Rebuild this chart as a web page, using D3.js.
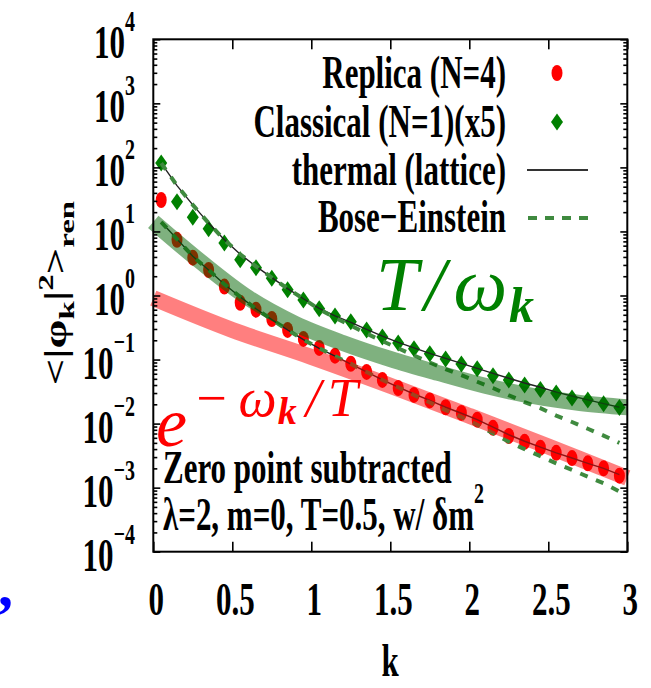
<!DOCTYPE html>
<html>
<head>
<meta charset="utf-8">
<script src="https://cdn.jsdelivr.net/npm/d3@7"></script>
<style>
  body { margin: 0; background: #fff; }
  svg text { font-family: "Liberation Serif", "Times New Roman", serif; font-weight: bold; }
  .math { font-weight: normal; font-style: italic; }
</style>
</head>
<body>
<div id="chart"></div>
<script>
// momenta of the data points
var kPts = [0.05, 0.15, 0.25, 0.35, 0.45, 0.55, 0.65, 0.75, 0.85, 0.95,
            1.05, 1.15, 1.25, 1.35, 1.45, 1.55, 1.65, 1.75, 1.85, 1.95,
            2.05, 2.15, 2.25, 2.35, 2.45, 2.55, 2.65, 2.75, 2.85, 2.95];

// Replica (N=4)
var replica = [31, 7.4, 3.9, 2.5, 1.38, 0.77, 0.60, 0.43, 0.29, 0.21,
               0.152, 0.115, 0.086, 0.064, 0.048, 0.036, 0.028, 0.023, 0.018, 0.0147,
               0.0115, 0.0086, 0.0064, 0.0052, 0.0042, 0.0035, 0.0029, 0.0024, 0.0020, 0.00154];
// Classical (N=1)(x5)
var classical = [117, 29, 16.6, 11.0, 6.6, 3.6, 2.7, 1.86, 1.23, 0.85,
                 0.62, 0.48, 0.39, 0.29, 0.224, 0.182, 0.148, 0.123, 0.102, 0.085,
                 0.072, 0.056, 0.048, 0.040, 0.034, 0.030, 0.025, 0.0234, 0.0204, 0.0178];
// thermal (lattice)
var thermalRep = [14, 7.6, 4.1, 2.5, 1.5, 0.95, 0.62, 0.42, 0.29, 0.205,
                  0.150, 0.113, 0.085, 0.064, 0.048, 0.037, 0.029, 0.023, 0.018, 0.0145,
                  0.0115, 0.0088, 0.0067, 0.0053, 0.0043, 0.0035, 0.0029, 0.0024, 0.0020, 0.0016];
var thermalCla = [117, 52, 26, 13.5, 7.4, 4.4, 2.85, 1.9, 1.28, 0.89,
                  0.63, 0.48, 0.38, 0.295, 0.232, 0.186, 0.152, 0.125, 0.104, 0.087,
                  0.073, 0.061, 0.051, 0.043, 0.037, 0.031, 0.027, 0.0235, 0.0205, 0.018];
// Bose-Einstein
var boseRep = [14, 7.6, 4.1, 2.5, 1.5, 0.95, 0.62, 0.42, 0.29, 0.205,
               0.150, 0.113, 0.085, 0.064, 0.048, 0.037, 0.028, 0.0214, 0.0162, 0.0126,
               0.0096, 0.0071, 0.0052, 0.0040, 0.0031, 0.0024, 0.00189, 0.00148, 0.00117, 0.00087];
var boseCla = [117, 52, 26, 13.5, 7.4, 4.4, 2.85, 1.9, 1.28, 0.89,
               0.61, 0.45, 0.34, 0.255, 0.194, 0.150, 0.116, 0.090, 0.071, 0.057,
               0.045, 0.036, 0.0277, 0.0217, 0.0174, 0.0133, 0.0106, 0.0083, 0.0065, 0.0050];

// thick guide bands
var bandTK = [0, 0.3, 0.6, 0.9, 1.2, 1.5, 1.8, 2.1, 2.4, 2.7, 3.0];
var bandT  = [14.1, 3.35, 0.92, 0.36, 0.182, 0.102, 0.062, 0.039, 0.027, 0.021, 0.018];
var bandEK = [0, 0.5, 1.0, 1.5, 2.0, 2.5, 3.0];
var bandE  = [0.91, 0.29, 0.11, 0.039, 0.0132, 0.0044, 0.00142];

var xTicks = [0, 0.5, 1, 1.5, 2, 2.5, 3];
var yExps = [-4, -3, -2, -1, 0, 1, 2, 3, 4];

var SY = 1.5, FS = 31;
var svg = d3.select("#chart").append("svg").attr("width", 651).attr("height", 688);

var x = d3.scaleLinear().domain([0, 3]).range([153.3, 627.3]);
var y = d3.scaleLog().domain([1e-4, 1e4]).range([551.7, 39.3]);

function txt(px, py, size) {
  return svg.append("text")
    .attr("transform", "translate(" + px + "," + py + ") scale(1," + SY + ")")
    .style("font-size", size + "px");
}

var line = d3.line().x(d => x(d[0])).y(d => y(d[1]));
var smooth = d3.line().x(d => x(d[0])).y(d => y(d[1])).curve(d3.curveCatmullRom);
function pairs(ks, vs) { return ks.map((k, i) => [k, vs[i]]); }

var diamond = "M0,-8.5L6,0L0,8.5L-6,0Z";

// markers
svg.append("g").selectAll("ellipse").data(pairs(kPts, replica)).enter().append("ellipse")
  .attr("cx", d => x(d[0])).attr("cy", d => y(d[1]))
  .attr("rx", 5.5).attr("ry", 8).attr("fill", "#ff0000");
svg.append("g").selectAll("path").data(pairs(kPts, classical)).enter().append("path")
  .attr("d", diamond).attr("transform", d => "translate(" + x(d[0]) + "," + y(d[1]) + ")")
  .attr("fill", "#008000");

// thermal lines
[thermalRep, thermalCla].forEach(function (s) {
  svg.append("path").datum(pairs(kPts, s)).attr("d", line)
    .attr("fill", "none").attr("stroke", "#222").attr("stroke-width", 1.4);
});
// Bose-Einstein
[boseRep, boseCla].forEach(function (s) {
  svg.append("path").datum(pairs(kPts, s)).attr("d", line)
    .attr("fill", "none").attr("stroke", "#3f8a3f").attr("stroke-width", 4)
    .attr("stroke-dasharray", "8,9");
});

// bands
svg.append("path").datum(pairs(bandTK, bandT)).attr("d", smooth)
  .attr("fill", "none").attr("stroke", "rgb(0,100,0)").attr("stroke-opacity", 0.5).attr("stroke-width", 16);
svg.append("path").datum(pairs(bandEK, bandE)).attr("d", smooth)
  .attr("fill", "none").attr("stroke", "rgb(255,0,0)").attr("stroke-opacity", 0.5).attr("stroke-width", 16);

// axes (ticks inward)
var majors = yExps.map(e => Math.pow(10, e));
var minors = [];
yExps.slice(0, -1).forEach(function (e) { for (var m = 2; m < 10; m++) minors.push(m * Math.pow(10, e)); });

function clean(g) { g.select(".domain").remove(); g.selectAll("line").attr("stroke", "#000").attr("stroke-width", 1.6); }
svg.append("g").attr("transform", "translate(153.3,0)")
  .call(d3.axisLeft(y).tickValues(majors).tickSize(-7).tickFormat("")).call(clean);
svg.append("g").attr("transform", "translate(153.3,0)")
  .call(d3.axisLeft(y).tickValues(minors).tickSize(-4).tickFormat("")).call(clean);
svg.append("g").attr("transform", "translate(627.3,0)")
  .call(d3.axisRight(y).tickValues(majors).tickSize(-7).tickFormat("")).call(clean);
svg.append("g").attr("transform", "translate(627.3,0)")
  .call(d3.axisRight(y).tickValues(minors).tickSize(-4).tickFormat("")).call(clean);
svg.append("g").attr("transform", "translate(0,551.7)")
  .call(d3.axisBottom(x).tickValues(xTicks).tickSize(-10).tickFormat("")).call(clean);
svg.append("g").attr("transform", "translate(0,39.3)")
  .call(d3.axisTop(x).tickValues(xTicks).tickSize(-10).tickFormat("")).call(clean);

svg.append("rect").attr("x", 153.3).attr("y", 39.3).attr("width", 474).attr("height", 512.4)
  .attr("fill", "none").attr("stroke", "#000").attr("stroke-width", 2);

// tick labels
yExps.forEach(function (e) {
  var t = txt(135, y(Math.pow(10, e)) + 19, FS).attr("text-anchor", "end");
  t.append("tspan").text("10");
  t.append("tspan").attr("dy", -18).style("font-size", "20px").text(e < 0 ? "\u2212" + (-e) : e);
});
xTicks.forEach(function (v) {
  txt(x(v) + 3, 615, FS).attr("text-anchor", "middle").text(v);
});
txt(390, 676, FS).attr("text-anchor", "middle").text("k");

// y title
var yt = svg.append("text").attr("transform", "translate(66,293) rotate(-90) scale(" + SY + ",1)")
  .attr("text-anchor", "middle").style("font-size", "31px");
yt.append("tspan").text("<|\u03c6");
yt.append("tspan").attr("dy", 8).style("font-size", "22px").text("k");
yt.append("tspan").attr("dy", -8).text("|");
yt.append("tspan").attr("dy", -13).style("font-size", "22px").text("2");
yt.append("tspan").attr("dy", 13).text(">");
yt.append("tspan").attr("dy", 8).style("font-size", "22px").text("ren");

// legend
var legendNames = ["Replica (N=4)", "Classical (N=1)(x5)", "thermal (lattice)", "Bose\u2212Einstein"];
var legendBase = [88, 137, 185, 232];
legendNames.forEach(function (n, i) { txt(506, legendBase[i], FS).attr("text-anchor", "end").text(n); });
svg.append("ellipse").attr("cx", 557).attr("cy", 73).attr("rx", 5.5).attr("ry", 8).attr("fill", "#ff0000");
svg.append("path").attr("d", diamond).attr("transform", "translate(557,122)").attr("fill", "#008000");
svg.append("line").attr("x1", 527).attr("x2", 588).attr("y1", 170).attr("y2", 170)
  .attr("stroke", "#333").attr("stroke-width", 2);
svg.append("line").attr("x1", 528).attr("x2", 590).attr("y1", 218).attr("y2", 218)
  .attr("stroke", "#3f8a3f").attr("stroke-width", 4).attr("stroke-dasharray", "9,8");

// annotations
txt(163, 483, FS).text("Zero point subtracted");
var p = txt(163, 530, FS);
p.append("tspan").text("\u03bb=2, m=0, T=0.5, w/ \u03b4m");
p.append("tspan").attr("dy", -18).style("font-size", "20px").text("2");

var tw = svg.append("text").attr("class", "math").attr("x", 376).attr("y", 310)
  .attr("fill", "#008000").style("font-size", "76px");
tw.append("tspan").text("T");
tw.append("tspan").attr("dx", 6).text("/");
tw.append("tspan").attr("dx", 8).text("\u03c9");
tw.append("tspan").attr("dy", 12).attr("dx", 2).style("font-size", "50px").style("font-weight", "bold").text("k");

var ew = svg.append("text").attr("class", "math").attr("x", 156).attr("y", 446)
  .attr("fill", "#ff0000").style("font-size", "70px");
ew.append("tspan").text("e");
ew.append("tspan").attr("dy", -30).attr("dx", 6).style("font-size", "54px").text("\u2212");
ew.append("tspan").attr("dx", 9).style("font-size", "54px").text("\u03c9");
ew.append("tspan").attr("dy", 8).attr("dx", 1).style("font-size", "38px").style("font-weight", "bold").text("k");
ew.append("tspan").attr("dy", -8).attr("dx", 9).style("font-size", "54px").text("/");
ew.append("tspan").attr("dx", 7).style("font-size", "54px").text("T");

// stray comma from the surrounding page
svg.append("text").attr("x", -2).attr("y", 606).attr("fill", "#0000ff")
  .style("font-size", "60px").text(",");
</script>
</body>
</html>
